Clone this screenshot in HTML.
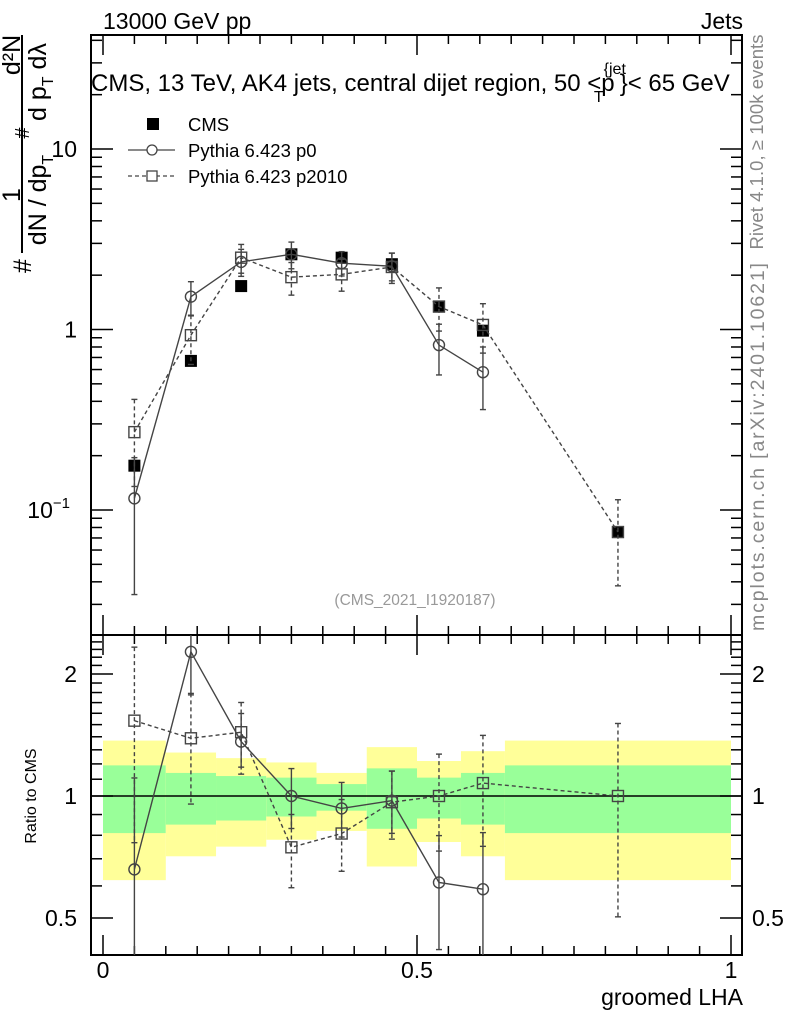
<!DOCTYPE html>
<html><head><meta charset="utf-8"><style>
html,body{margin:0;padding:0;background:#fff;}
svg{display:block;font-family:"Liberation Sans",sans-serif;}
</style></head><body>
<svg id="chart" width="786" height="1024" viewBox="0 0 786 1024" xmlns="http://www.w3.org/2000/svg">
<g id="bands"></g>
<g id="axes"></g>
<g id="series"></g>
<text x="103" y="29" font-size="23">13000 GeV pp</text>
<text x="743" y="29" font-size="23" text-anchor="end">Jets</text>
<text x="91" y="91" font-size="24">CMS, 13 TeV, AK4 jets, central dijet region, 50 &lt;p<tspan font-size="16" dy="-17" dx="-11">{jet</tspan><tspan font-size="16" dx="-32" dy="28">T</tspan><tspan dx="16" dy="-11">}&lt; 65 GeV</tspan></text>
<text x="415" y="605" font-size="15.5" fill="#999" text-anchor="middle">(CMS_2021_I1920187)</text>
<text transform="translate(763,142) rotate(-90)" font-size="18.5" fill="#888" text-anchor="middle" textLength="215" lengthAdjust="spacing">Rivet 4.1.0, ≥ 100k events</text>
<text transform="translate(764,447) rotate(-90)" font-size="19.5" fill="#888" text-anchor="middle" textLength="368" lengthAdjust="spacing">mcplots.cern.ch [arXiv:2401.10621]</text>
<g font-size="25">
<line x1="22" y1="35" x2="22" y2="253" stroke="#000" stroke-width="2"/>
<text transform="translate(20,195) rotate(-90)" text-anchor="middle">1</text>
<text transform="translate(20,55) rotate(-90)" text-anchor="middle">d²N</text>
<text transform="translate(46,200) rotate(-90)" text-anchor="middle">dN / dp<tspan font-size="16" dy="7">T</tspan></text>
<text transform="translate(46,82) rotate(-90)" text-anchor="middle">d p<tspan font-size="16" dy="7">T</tspan><tspan dy="-7"> dλ</tspan></text>
<text transform="translate(31,266) rotate(-90)" text-anchor="middle">#</text>
<text transform="translate(29,133) rotate(-90)" text-anchor="middle" font-size="20">#</text>
</g>
<text transform="translate(36,796) rotate(-90)" font-size="16" text-anchor="middle">Ratio to CMS</text>
<text x="743" y="1005" font-size="23" text-anchor="end">groomed LHA</text>
<g font-size="18.5">
<rect x="147" y="118" width="12" height="12" fill="#000"/>
<text x="188" y="131">CMS</text>
<line x1="128" y1="150" x2="175" y2="150" stroke="#444" stroke-width="1.3"/>
<circle cx="152" cy="150" r="5" fill="#fff" stroke="#444" stroke-width="1.3"/>
<text x="188" y="157">Pythia 6.423 p0</text>
<line x1="128" y1="176" x2="175" y2="176" stroke="#444" stroke-width="1.3" stroke-dasharray="4,3"/>
<rect x="147" y="171" width="10" height="10" fill="#fff" stroke="#444" stroke-width="1.3"/>
<text x="188" y="183">Pythia 6.423 p2010</text>
</g>
</svg>
<script>
const binEdges=[0,0.1,0.18,0.26,0.34,0.42,0.5,0.57,0.64,1.0];
const xVals=[0.05,0.14,0.22,0.30,0.38,0.46,0.535,0.605,0.82];
const cmsVals=[0.176,0.67,1.74,2.61,2.5,2.30,1.34,0.985,0.0755];
const yellowHi=[1.37,1.28,1.24,1.21,1.14,1.32,1.22,1.29,1.37];
const yellowLo=[0.62,0.71,0.75,0.78,0.82,0.67,0.77,0.71,0.62];
const greenHi=[1.19,1.14,1.12,1.11,1.07,1.17,1.11,1.14,1.19];
const greenLo=[0.81,0.85,0.87,0.89,0.92,0.83,0.88,0.85,0.81];
const p0X=[0.05,0.14,0.22,0.30,0.38,0.46,0.535,0.605];
const p0Vals=[0.116,1.52,2.37,2.61,2.33,2.24,0.82,0.58];
const p0Lo=[0.034,1.19,2.05,2.17,1.98,1.86,0.56,0.36];
const p0Hi=[0.195,1.84,2.78,3.05,2.7,2.65,1.07,0.80];
const p2X=[0.05,0.14,0.22,0.30,0.38,0.46,0.535,0.605,0.82];
const p2Vals=[0.27,0.93,2.5,1.95,2.02,2.22,1.34,1.06,0.0755];
const p2Lo=[0.135,0.64,1.97,1.55,1.63,1.8,0.98,0.74,0.038];
const p2Hi=[0.41,1.2,2.96,2.35,2.45,2.65,1.70,1.39,0.114];
const mainTicks=[0.1,1,10];
const mainTickLabels=["10","1","10"];
const ratioTicks=[0.5,1,2];
const ratioTickLabels=["0.5","1","2"];
const xTicks=[0,0.5,1];
const xTickLabels=["0","0.5","1"];

const NS="http://www.w3.org/2000/svg";
const L=91,R=742,T=35,M=635,B=955;
function X(v){return 103+628*v;}
function Y(v){return 329.5-180.5*Math.log10(v);}
function YR(r){return 796-405.3*Math.log10(r);}
function mk(p,tag,a){const e=document.createElementNS(NS,tag);for(const k in a)e.setAttribute(k,a[k]);p.appendChild(e);return e;}
const bands=document.getElementById('bands'),axes=document.getElementById('axes'),series=document.getElementById('series');

for(let i=0;i<binEdges.length-1;i++){
  const x0=X(binEdges[i]),x1=X(binEdges[i+1]);
  const y=mk(bands,'rect',{x:x0,y:YR(yellowHi[i]),width:x1-x0,height:YR(yellowLo[i])-YR(yellowHi[i]),fill:'#ffff99'});
  
  
  const g=mk(bands,'rect',{x:x0,y:YR(greenHi[i]),width:x1-x0,height:YR(greenLo[i])-YR(greenHi[i]),fill:'#99ff99'});
  
  
}
const one=mk(bands,'line',{x1:L,x2:R,y1:YR(1),y2:YR(1),stroke:'#000','stroke-width':1.5});



const f1=mk(axes,'rect',{x:L,y:T,width:R-L,height:M-T,fill:'none',stroke:'#000','stroke-width':2});


const f2=mk(axes,'rect',{x:L,y:M,width:R-L,height:B-M,fill:'none',stroke:'#000','stroke-width':2});


function tk(x1,y1,x2,y2){mk(axes,'line',{x1,y1,x2,y2,stroke:'#000','stroke-width':1.5});}
for(let k=0;k<=20;k++){const v=k*0.05,x=X(v),big=(k%10===0),len=big?20:9;
  tk(x,M,x,M-len);tk(x,T,x,T+len);tk(x,B,x,B-len);tk(x,M,x,M+len);}
xTicks.forEach((v,i)=>{const t=mk(axes,'text',{x:X(v),y:978,'font-size':23,'text-anchor':'middle'});t.textContent=xTickLabels[i];
  
  });
for(let d=-2;d<=1;d++)for(let m=1;m<=9;m++){const v=m*Math.pow(10,d),y=Y(v);if(y<T||y>M)continue;
  const len=m===1?22:11;tk(L,y,L+len,y);tk(R,y,R-len,y);}
mainTicks.forEach((v,i)=>{const t=mk(axes,'text',{x:i===0?70:77,y:Y(v)+8,'font-size':23,'text-anchor':'end'});t.textContent=mainTickLabels[i];
  if(i===0){const s=mk(t,'tspan',{'font-size':15,dy:-10});s.textContent='−1';}
  
  });
for(let r=0.4;r<2.5;r+=0.1){const rr=Math.round(r*10)/10,y=YR(rr);if(y<M||y>B)continue;
  const big=(rr===0.5||rr===1||rr===2),len=big?22:11;tk(L,y,L+len,y);tk(R,y,R-len,y);}
ratioTicks.forEach((v,i)=>{const t=mk(axes,'text',{x:77,y:YR(v)+8,'font-size':23,'text-anchor':'end'});t.textContent=ratioTickLabels[i];
  
  
  const t2=mk(axes,'text',{x:752,y:YR(v)+8,'font-size':23});t2.textContent=ratioTickLabels[i];
  
  });

function clipY(y,lo,hi){return Math.max(lo,Math.min(hi,y));}
function drawSeries(xs,vals,lo,hi,dash,shape,fy,ylo,yhi,name){
  const g=mk(series,'g',{});
  
  
  const pts=xs.map((x,i)=>X(x)+','+clipY(fy(vals[i],i),ylo,yhi)).join(' ');
  mk(g,'polyline',{points:pts,fill:'none',stroke:'#444','stroke-width':1.4,'stroke-dasharray':dash});
  xs.forEach((x,i)=>{const cx=X(x);
    const a=clipY(fy(hi[i],i),ylo,yhi),b=clipY(fy(lo[i],i),ylo,yhi);
    mk(g,'line',{x1:cx,x2:cx,y1:a,y2:b,stroke:'#444','stroke-width':1.4,'stroke-dasharray':dash});
    if(a>ylo)mk(g,'line',{x1:cx-3,x2:cx+3,y1:a,y2:a,stroke:'#444','stroke-width':1.4});
    if(b<yhi)mk(g,'line',{x1:cx-3,x2:cx+3,y1:b,y2:b,stroke:'#444','stroke-width':1.4});
    const cy=fy(vals[i],i);if(cy<ylo||cy>yhi)return;
    let m;
    if(shape==='c')m=mk(g,'circle',{cx,cy,r:5.5,fill:'#fff','fill-opacity':0,stroke:'#444','stroke-width':1.4});
    else m=mk(g,'rect',{x:cx-5.5,y:cy-5.5,width:11,height:11,fill:'#fff','fill-opacity':0,stroke:'#444','stroke-width':1.4});
    
    
  });
}
xVals.forEach((x,i)=>{const r=mk(series,'rect',{x:X(x)-6,y:Y(cmsVals[i])-6,width:12,height:12,fill:'#000'});
  
  });
drawSeries(p0X,p0Vals,p0Lo,p0Hi,'none','c',(v)=>Y(v),T,M,'p0-main');
drawSeries(p2X,p2Vals,p2Lo,p2Hi,'4,3','s',(v)=>Y(v),T,M,'p2010-main');
drawSeries(p0X,p0Vals,p0Lo,p0Hi,'none','c',(v,i)=>YR(v/cmsVals[xVals.indexOf(p0X[i])]),M,B,'p0-ratio');
drawSeries(p2X,p2Vals,p2Lo,p2Hi,'4,3','s',(v,i)=>YR(v/cmsVals[xVals.indexOf(p2X[i])]),M,B,'p2010-ratio');
</script>
</body></html>
